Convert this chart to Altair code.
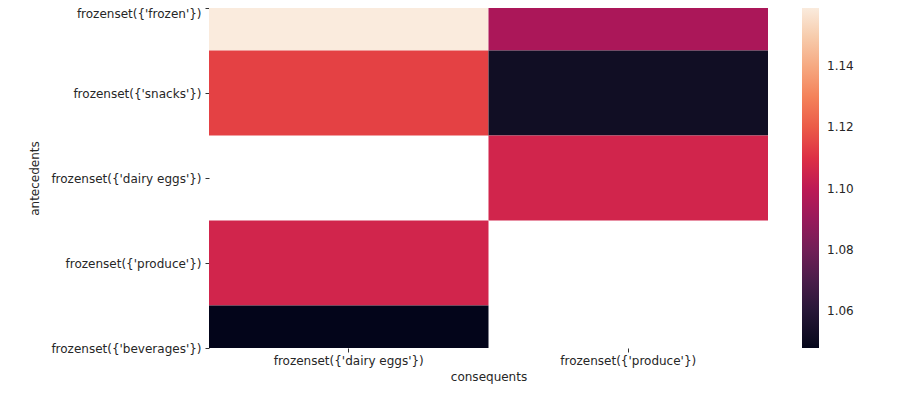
import json
import altair as alt
import pandas as pd

antecedents = ["frozenset({'frozen'})", "frozenset({'snacks'})", "frozenset({'dairy eggs'})",
               "frozenset({'produce'})", "frozenset({'beverages'})"]
consequents = ["frozenset({'dairy eggs'})", "frozenset({'produce'})"]
lift_dairy_eggs = [1.159, 1.114, None, 1.106, 1.048]
lift_produce = [1.095, 1.052, 1.106, None, None]
colorbar_ticks = [1.06, 1.08, 1.10, 1.12, 1.14]
rocket = ["#03051a", "#35193e", "#701f57", "#ad1759", "#e13342", "#f37651", "#f6b48f", "#faebdd"]

rows = []
for i, a in enumerate(antecedents):
    for c, vals in zip(consequents, [lift_dairy_eggs, lift_produce]):
        v = vals[i]
        if v is not None:
            rows.append({"antecedents": a, "consequents": c, "lift": v,
                         "lo": i - 0.5, "hi": i + 0.5})
df = pd.DataFrame(rows)
vals_all = [v for v in lift_dairy_eggs + lift_produce if v is not None]

label_expr = json.dumps(antecedents) + "[datum.value]"

chart = alt.Chart(df).mark_rect(clip=True).encode(
    x=alt.X("consequents:N", sort=consequents, title="consequents",
            scale=alt.Scale(paddingInner=0, paddingOuter=0),
            axis=alt.Axis(labelAngle=0, domain=False, tickSize=4, tickColor="#333",
                          labelPadding=3, titlePadding=5)),
    y=alt.Y("lo:Q", title="antecedents",
            scale=alt.Scale(domain=[0, len(antecedents) - 1], reverse=True, nice=False, zero=False),
            axis=alt.Axis(values=list(range(len(antecedents))), labelExpr=label_expr,
                          labelBaseline={"condition": {"test": "datum.value == 0", "value": "top"},
                                         "value": "middle"},
                          domain=False, grid=False, tickSize=4, tickColor="#333",
                          labelPadding=4, titlePadding=9)),
    y2="hi:Q",
    color=alt.Color("lift:Q",
                    scale=alt.Scale(domain=[min(vals_all), max(vals_all)], range=rocket),
                    legend=alt.Legend(title=None, orient="none", legendX=593, legendY=0,
                                      direction="vertical", gradientLength=340,
                                      gradientThickness=17, values=colorbar_ticks,
                                      format=".2f", labelFontSize=12, labelColor="#262626",
                                      labelFont="DejaVu Sans", labelOffset=8,
                                      gradientStrokeWidth=0)),
).properties(
    width=559, height=340,
    autosize=alt.AutoSizeParams(type="none"),
    padding={"left": 201, "top": 0, "right": 138, "bottom": 46},
).configure_view(stroke=None).configure_axis(
    labelFont="DejaVu Sans", titleFont="DejaVu Sans", labelFontSize=12, titleFontSize=12,
    labelColor="#262626", titleColor="#262626", titleFontWeight="normal"
)

chart.save("out.html", embed_options={"renderer": "svg", "actions": False})
